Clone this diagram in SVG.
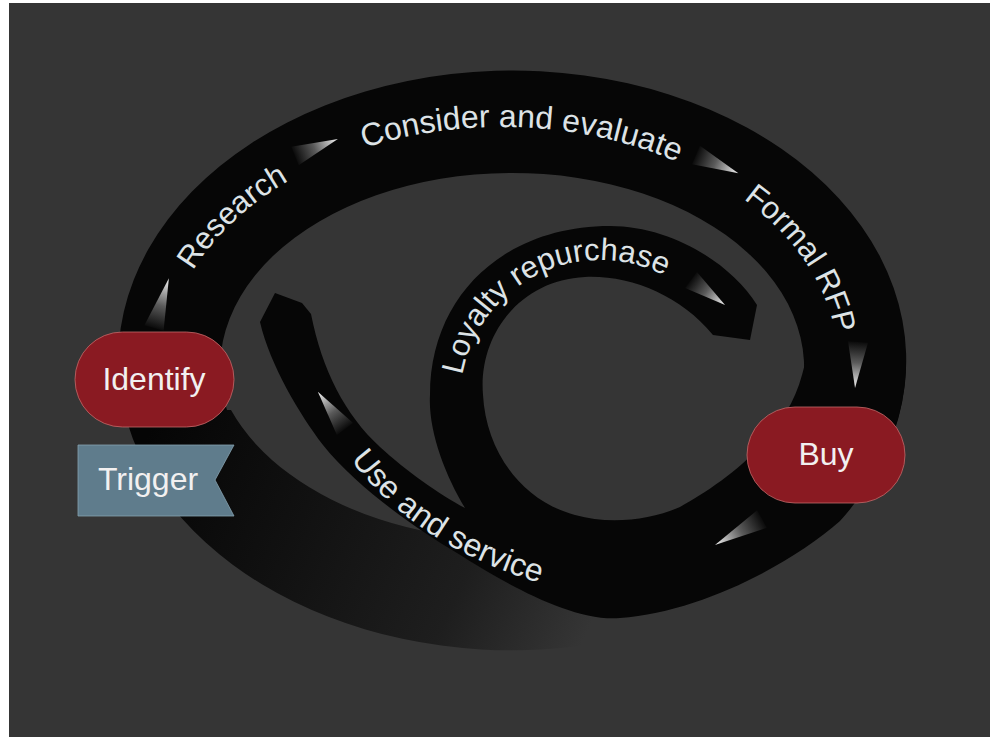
<svg xmlns="http://www.w3.org/2000/svg" width="990" height="739" viewBox="0 0 990 739">
  <style>
    .band { fill: #060606; }
    .lbl { font-family: "Liberation Sans", Arial, sans-serif; font-size: 31px; fill: #dde3e6; }
    .node-red { fill: #8a1a22; stroke: #c26a6a; stroke-width: 0.8; }
    .node-blue { fill: #5f7c8c; stroke: #86a2b0; stroke-width: 0.8; }
    .node-text { font-family: "Liberation Sans", Arial, sans-serif; font-size: 32px; fill: #f2f0f0; text-anchor: middle; }
  </style>
  <defs>
    <linearGradient id="arrowFade" x1="0" y1="0" x2="1" y2="0">
      <stop offset="0" stop-color="#0b0b0b"/>
      <stop offset="0.45" stop-color="#5a5a5a"/>
      <stop offset="1" stop-color="#f4f4f4"/>
    </linearGradient>
    <linearGradient id="shadowFade" gradientUnits="userSpaceOnUse" x1="150" y1="430" x2="600" y2="640">
      <stop offset="0" stop-color="#050505"/>
      <stop offset="0.35" stop-color="#111111"/>
      <stop offset="0.7" stop-color="#1e1e1e"/>
      <stop offset="0.97" stop-color="#353535"/>
    </linearGradient>
    <polygon id="arrow" points="0,-10 0,10 48,0" fill="url(#arrowFade)"/>
    <!-- baselines for the curved labels -->
    <path id="p-research" d="M 171.1,322.8 A 336 237 0 0 1 354.8,151"/>
    <path id="p-consider" d="M 334,158.7 A 336 237 0 0 1 699.5,172.3"/>
    <path id="p-formal" d="M 677.4,161.8 A 336 237 0 0 1 837.9,370.2"/>
    <path id="p-loyalty" d="M 460.5,412.2 A 140 140 0 0 1 690,292.8"/>
    <path id="p-use" d="M 320,405 C 350,480 430,560 575,592"/>
  </defs>

  <!-- backdrop -->
  <rect x="9" y="3" width="981" height="734" fill="#353535"/>

  <g id="connectors">
    <!-- fading lower-left part of the outer loop -->
    <path d="M 124,410 A 394 290 0 0 0 600,643 L 600,531 A 300 200 0 0 1 231,410 Z" fill="url(#shadowFade)"/>
    <!-- upper loop: Identify over the top to Buy -->
    <path class="band" d="M 124,410 A 394 290 0 1 1 887,450 L 777,450 A 292 195 0 1 0 227,410 Z"/>
    <!-- lower spiral: Buy down to use and service, with the loyalty inner loop -->
    <path class="band" d="M 906,360 A 394 290 0 0 1 840,521
      C 790,565 700,612 620,618
      C 570,622 500,580 457,553
      C 410,525 355,485 323,445
      C 300,415 270,365 260,322
      L 275,293 L 302,303 L 311,314
      C 322,370 345,415 380,447
      C 405,470 440,495 465,508
      C 445,475 428,430 430,395
      C 430,295 505,226 610,226
      C 670,226 730,262 757,305
      L 750,340 L 713,335
      C 680,295 630,275 585,277
      C 520,280 478,335 483,395
      C 486,450 520,500 575,515
      C 610,525 650,520 680,507
      C 720,485 785,440 802,375
      L 806,360 Z"/>

    <!-- direction arrows -->
    <use href="#arrow" transform="translate(154,328) rotate(-73.3) scale(1.08,1)"/>
    <use href="#arrow" transform="translate(295,156) rotate(-21.6) scale(0.96,1)"/>
    <use href="#arrow" transform="translate(696,155) rotate(23.2) scale(0.96,1)"/>
    <use href="#arrow" transform="translate(858,342) rotate(93.7) scale(0.96,1)"/>
    <use href="#arrow" transform="translate(762,519) rotate(151) scale(1.12,1)"/>
    <use href="#arrow" transform="translate(345,429) rotate(-126.1) scale(0.96,1)"/>
    <use href="#arrow" transform="translate(691,280) rotate(36.3) scale(0.88,1)"/>

    <!-- stage labels -->
    <text class="lbl"><textPath href="#p-research" startOffset="47%" text-anchor="middle">Research</textPath></text>
    <text class="lbl" style="font-size:32px"><textPath href="#p-consider" startOffset="51%" text-anchor="middle">Consider and evaluate</textPath></text>
    <text class="lbl"><textPath href="#p-formal" startOffset="57%" text-anchor="middle">Formal RFP</textPath></text>
    <text class="lbl"><textPath href="#p-loyalty" startOffset="51%" text-anchor="middle">Loyalty repurchase</textPath></text>
    <text class="lbl" style="font-size:32px"><textPath href="#p-use" startOffset="54%" text-anchor="middle">Use and service</textPath></text>
  </g>

  <g id="identify">
    <rect class="node-red" x="75" y="332" width="159" height="95" rx="47.5"/>
    <text class="node-text" x="154" y="390">Identify</text>
  </g>

  <g id="trigger">
    <polygon class="node-blue" points="78,445 234,445 215,480 234,516 78,516"/>
    <text class="node-text" x="148" y="490">Trigger</text>
  </g>

  <g id="buy">
    <rect class="node-red" x="747" y="407" width="158" height="96" rx="48"/>
    <text class="node-text" x="826" y="465">Buy</text>
  </g>
</svg>
